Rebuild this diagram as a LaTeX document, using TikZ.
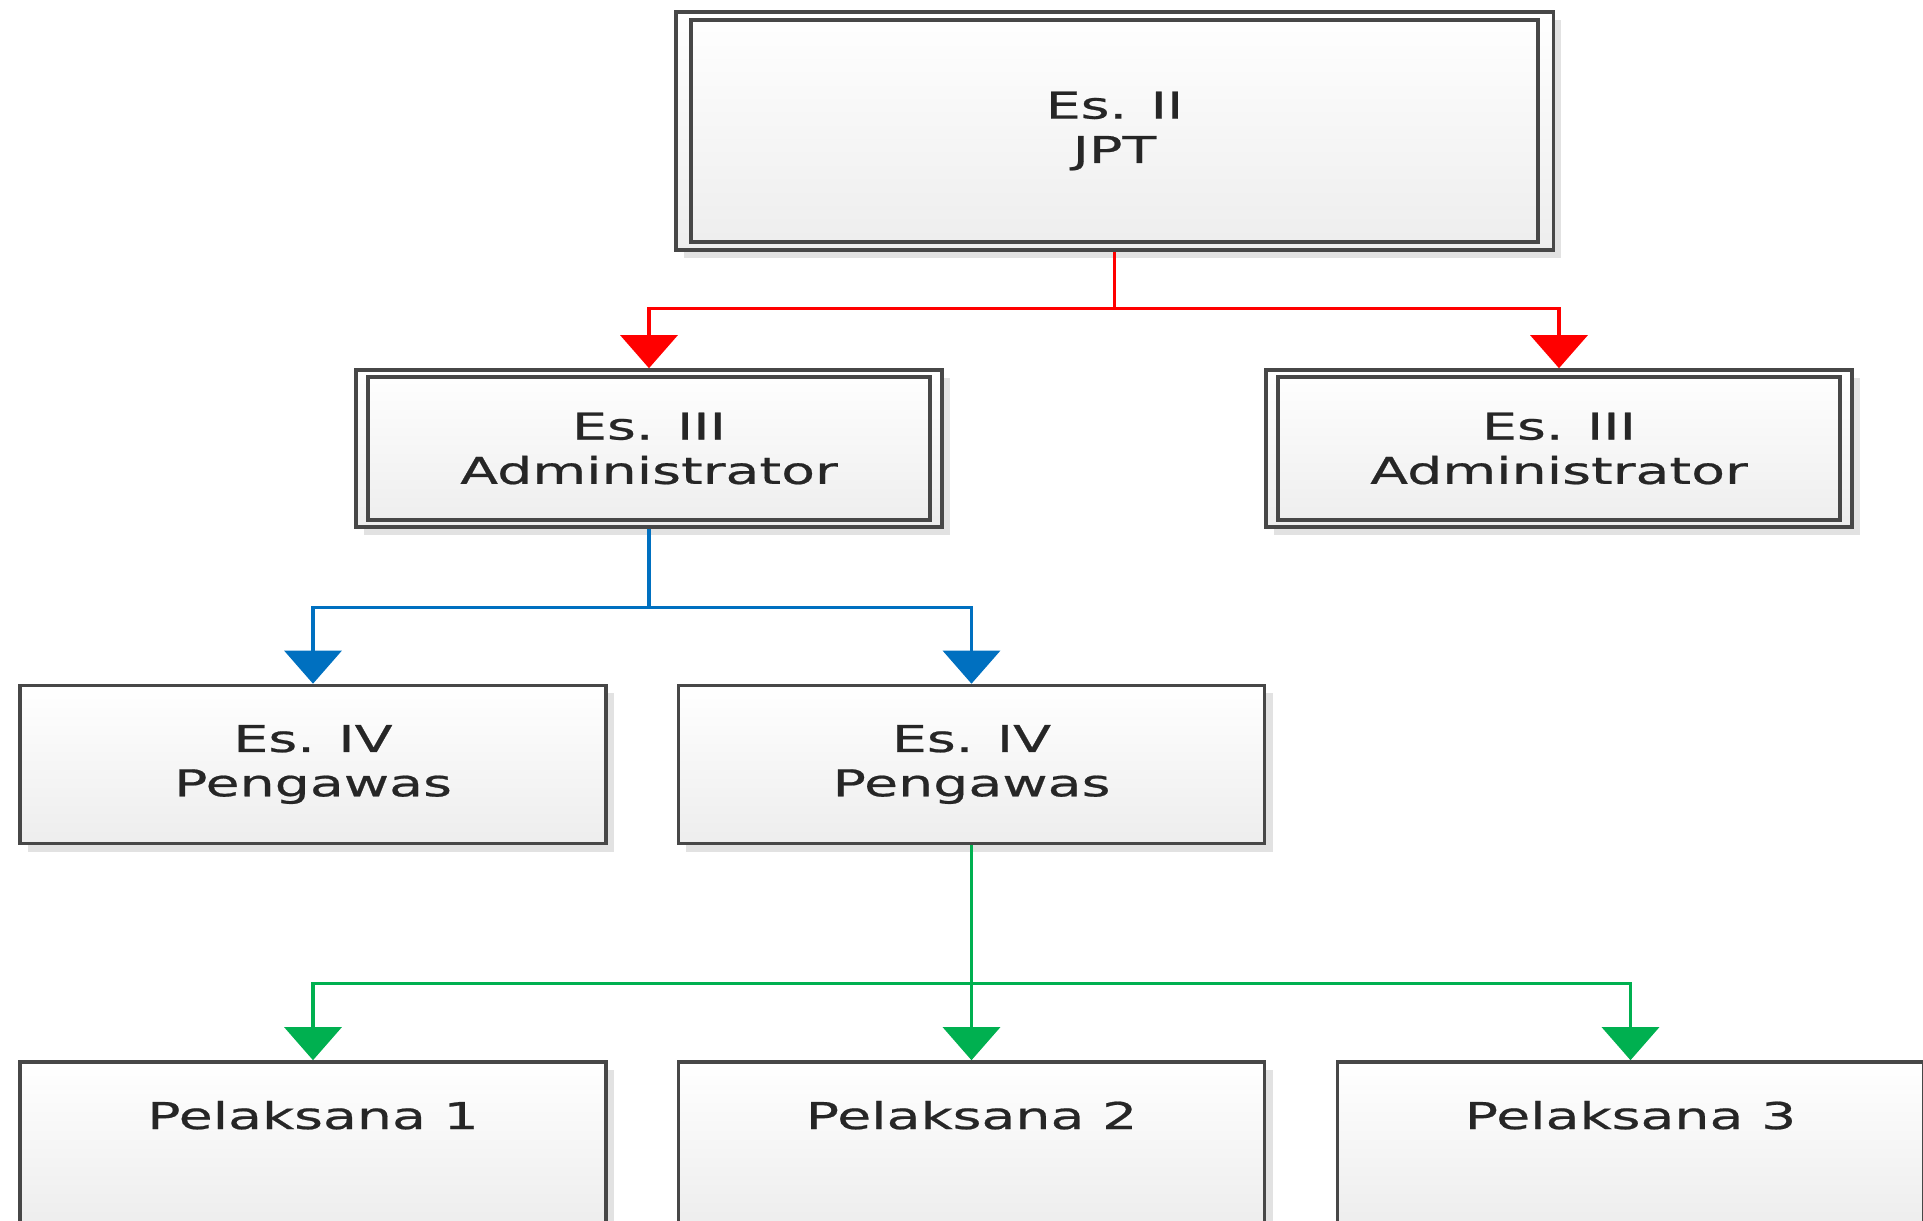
\documentclass[tikz,border=0pt]{standalone}
\usepackage{fontspec}
\newfontfamily\boxfont[FakeStretch=1.5,FakeBold=0.6]{DejaVu Sans}
\usetikzlibrary{arrows.meta,shadows,calc}
\definecolor{linered}{RGB}{255,0,0}
\definecolor{lineblue}{RGB}{0,112,192}
\definecolor{linegreen}{RGB}{0,176,80}
\tikzset{
  unit/.style={draw=black!72, line width=1pt, top color=white, bottom color=black!7,
    drop shadow={shadow xshift=0.08cm, shadow yshift=-0.08cm, fill=black!25, opacity=0.45},
    font={\boxfont\fontsize{10.5}{12.6}\selectfont}, text=black!85, align=center,
    minimum width=5.86cm, minimum height=1.58cm, inner sep=0pt},
  frame/.style={draw=black!72, line width=1pt},
  link/.style={line width=0.9pt, -{Triangle[width=0.57cm,length=0.33cm]}}
}

\begin{document}
\begin{tikzpicture}[x=0.01cm, y=-0.01cm]
        \useasboundingbox (0,0) rectangle (1923,1220);
        \clip (0,0) rectangle (1923,1220);

        % Eselon II
        \node[unit, minimum width=8.77cm, minimum height=2.38cm] (jpt) at (1114.5,131) {Es. II\\JPT};

        % Eselon III
        \node[unit, minimum height=1.57cm] (adm1) at (649,448.5) {Es. III\\Administrator};
        \node[unit, minimum height=1.57cm] (adm2) at (1559,448.5) {Es. III\\Administrator};

        % double frames
        \foreach \n/\dx/\dy in {jpt/17/10, adm1/14/9, adm2/14/9} {
            \draw[frame] ($(\n.north west)+(\dx,\dy)$) rectangle ($(\n.south east)-(\dx,\dy)$);
        }

        % Eselon IV
        \node[unit] (pgw1) at (313,764.5) {Es. IV\\Pengawas};
        \node[unit] (pgw2) at (971.5,764.5) {Es. IV\\Pengawas};

        % Pelaksana
        \foreach \x/\i in {313/1, 971.5/2, 1630.5/3} {
            \node[unit, minimum height=1.62cm, text height=0.27cm, text depth=0.55cm] (pel\i) at (\x,1143) {Pelaksana \i};
        }

        % Arrows
        \draw[link, linered] (jpt.south) -- ++(0,57) coordinate (r0) -| (adm1.north);
        \draw[link, linered] (r0) -| (adm2.north);

        \draw[link, lineblue] (adm1.south) -- ++(0,79) coordinate (b0) -| (pgw1.north);
        \draw[link, lineblue] (b0) -| (pgw2.north);

        \draw[link, linegreen] (pgw2.south) -- ++(0,138) coordinate (g0) -| (pel1.north);
        \draw[link, linegreen] (g0) -- (pel2.north);
        \draw[link, linegreen] (g0) -| (pel3.north);
\end{tikzpicture}
\end{document}
